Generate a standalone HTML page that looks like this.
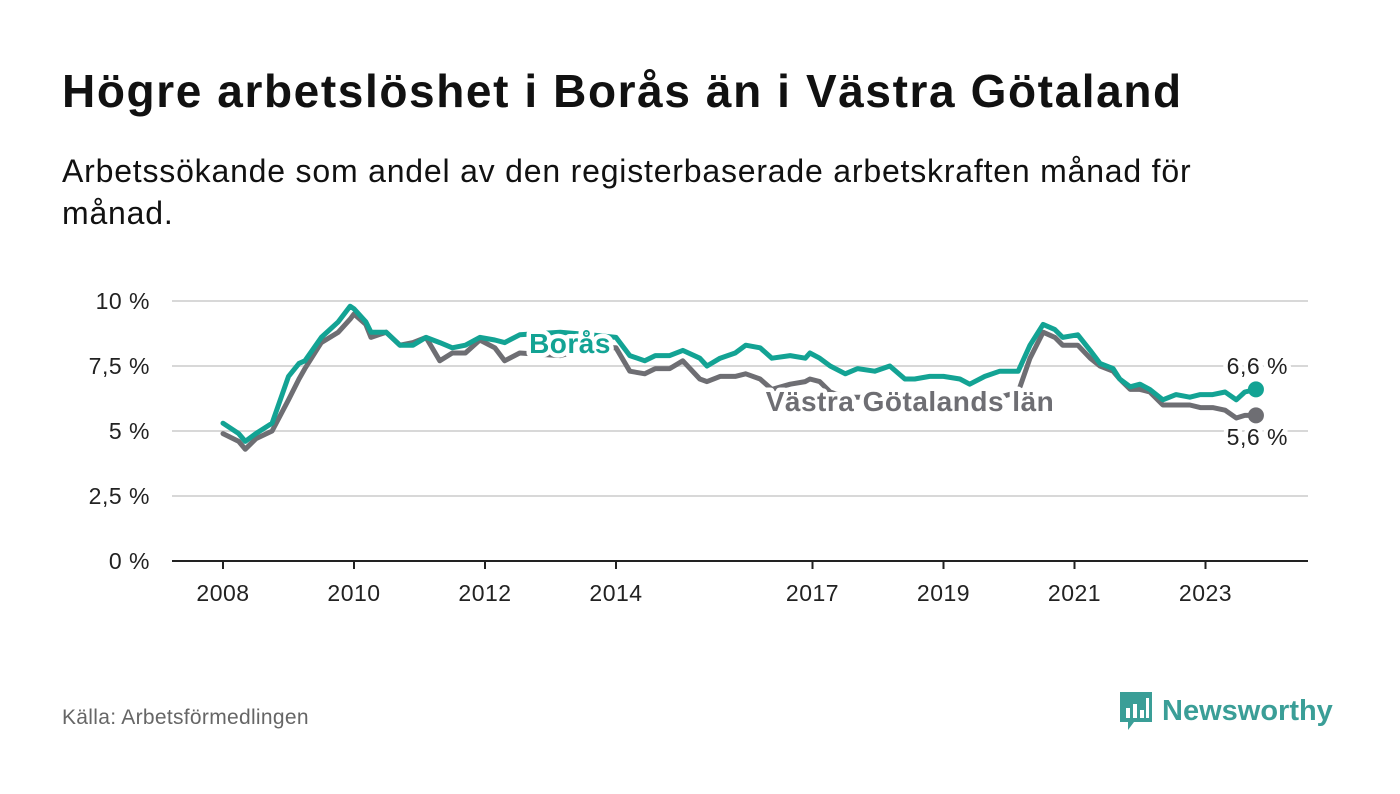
<!DOCTYPE html>
<html><head><meta charset="utf-8"><style>
body{margin:0;width:1400px;height:794px;background:#fff;font-family:"Liberation Sans","DejaVu Sans",sans-serif;color:#111;overflow:hidden;position:relative}
h1{position:absolute;left:62px;top:64px;margin:0;font-size:46px;font-weight:bold;letter-spacing:1.6px}
.sub{position:absolute;left:62px;top:150px;font-size:32px;line-height:42px;width:1190px;letter-spacing:0.8px}
.src{position:absolute;left:62px;top:706px;font-size:21px;color:#666;letter-spacing:0.3px}
.logo{position:absolute;left:1118px;top:690px;display:flex;align-items:center;gap:8px;font-size:29px;font-weight:bold;color:#3a9e97}
</style></head><body>
<h1>Högre arbetslöshet i Borås än i Västra Götaland</h1>
<div class="sub">Arbetssökande som andel av den registerbaserade arbetskraften månad för månad.</div>
<svg id="chart" width="1400" height="794" style="position:absolute;left:0;top:0"></svg>
<div class="src">Källa: Arbetsförmedlingen</div>
<div class="logo">
<svg width="36" height="42" viewBox="0 0 36 42"><path d="M2 2h32v30H16l-6 8v-8H2z" fill="#3a9e97"/><rect x="8" y="18" width="4" height="10" fill="#fff"/><rect x="15" y="14" width="4" height="14" fill="#fff"/><rect x="22" y="20" width="4" height="8" fill="#fff"/><rect x="28" y="8" width="3" height="20" fill="#fff"/></svg>
<span>Newsworthy</span></div>
<script>
const dates=[2008.0,2008.24,2008.34,2008.5,2008.75,2009.0,2009.16,2009.25,2009.5,2009.76,2009.94,2010.0,2010.18,2010.26,2010.49,2010.7,2010.9,2011.1,2011.31,2011.5,2011.7,2011.92,2012.15,2012.3,2012.53,2013.15,2013.6,2014.0,2014.21,2014.44,2014.6,2014.82,2015.02,2015.28,2015.39,2015.59,2015.82,2015.98,2016.2,2016.38,2016.66,2016.89,2016.96,2017.11,2017.27,2017.5,2017.69,2017.95,2018.18,2018.41,2018.56,2018.79,2019.0,2019.25,2019.4,2019.63,2019.86,2020.14,2020.32,2020.52,2020.7,2020.82,2021.05,2021.24,2021.39,2021.59,2021.69,2021.85,2022.0,2022.15,2022.35,2022.55,2022.76,2022.92,2023.11,2023.3,2023.47,2023.6,2023.77];
const boras=[5.3,4.9,4.6,4.9,5.3,7.1,7.6,7.7,8.6,9.2,9.8,9.7,9.2,8.8,8.8,8.3,8.3,8.6,8.4,8.2,8.3,8.6,8.5,8.4,8.7,8.8,8.7,8.6,7.9,7.7,7.9,7.9,8.1,7.8,7.5,7.8,8.0,8.3,8.2,7.8,7.9,7.8,8.0,7.8,7.5,7.2,7.4,7.3,7.5,7.0,7.0,7.1,7.1,7.0,6.8,7.1,7.3,7.3,8.3,9.1,8.9,8.6,8.7,8.1,7.6,7.4,7.0,6.7,6.8,6.6,6.2,6.4,6.3,6.4,6.4,6.5,6.2,6.5,6.6];
const vg=[4.9,4.6,4.3,4.7,5.0,6.2,7.0,7.4,8.4,8.8,9.3,9.5,9.1,8.6,8.8,8.3,8.4,8.6,7.7,8.0,8.0,8.5,8.2,7.7,8.0,7.9,8.2,8.2,7.3,7.2,7.4,7.4,7.7,7.0,6.9,7.1,7.1,7.2,7.0,6.6,6.8,6.9,7.0,6.9,6.5,6.3,6.3,6.3,6.3,6.3,6.3,6.3,6.3,6.3,6.3,6.3,6.3,6.5,7.8,8.8,8.6,8.3,8.3,7.8,7.5,7.3,7.0,6.6,6.6,6.5,6.0,6.0,6.0,5.9,5.9,5.8,5.5,5.6,5.6];
const yTicks=[0,2.5,5,7.5,10];
const yTickLabels=["0 %","2,5 %","5 %","7,5 %","10 %"];
const xTicks=[2008,2010,2012,2014,2017,2019,2021,2023];
const NS="http://www.w3.org/2000/svg";
const svg=document.getElementById('chart');
const X=t=>223+(t-2008)*65.5;
const Y=v=>561-v*26;
function mk(tag,attrs){const e=document.createElementNS(NS,tag);for(const k in attrs)e.setAttribute(k,attrs[k]);svg.appendChild(e);return e;}
yTicks.forEach((v,i)=>{
  const l=mk('line',{x1:172,x2:1308,y1:Y(v),y2:Y(v),stroke:v===0?'#222':'#d8d8d8','stroke-width':2});
  
  
  const t=mk('text',{x:150,y:Y(v)+8,'text-anchor':'end','font-size':23,fill:'#222','letter-spacing':0.5,'font-family':'Liberation Sans, DejaVu Sans, sans-serif'});
  t.textContent=yTickLabels[i];
  
  
});
xTicks.forEach(yr=>{
  const l=mk('line',{x1:X(yr),x2:X(yr),y1:561,y2:569,stroke:'#222','stroke-width':2});
  
  
  const t=mk('text',{x:X(yr),y:601,'text-anchor':'middle','font-size':23,fill:'#222','letter-spacing':0.5,'font-family':'Liberation Sans, DejaVu Sans, sans-serif'});
  t.textContent=yr;
  
  
});
function line(vals,color,name){
  const d=vals.map((v,i)=>(i?'L':'M')+X(dates[i]).toFixed(1)+' '+Y(v).toFixed(1)).join(' ');
  const p=mk('path',{d:d,fill:'none',stroke:color,'stroke-width':5,'stroke-linejoin':'round','stroke-linecap':'round'});
  
  
  const n=vals.length-1;
  const c=mk('circle',{cx:X(dates[n]),cy:Y(vals[n]),r:8,fill:color});
  
  
}
line(vg,'#6e6e73','vastra-gotaland-line');
line(boras,'#13a394','boras-line');
function lab(txt,x,y,color,size,anchor,bold,name){
  const t=mk('text',{x:x,y:y,'text-anchor':anchor,'font-size':size,fill:color,stroke:'#fff','stroke-width':9,'paint-order':'stroke','stroke-linejoin':'round','font-weight':bold?'bold':'normal','letter-spacing':0.5,'font-family':'Liberation Sans, DejaVu Sans, sans-serif'});
  t.textContent=txt;
  
  
}
lab('Borås',570,353,'#13a394',28,'middle',true,'boras-series-label');
lab('Västra Götalands län',910,411,'#6e6e73',28,'middle',true,'vg-series-label');
const nb=boras.length-1;
lab(boras[nb].toFixed(1).replace('.',',')+' %',1288,374,'#222',23,'end',false,'boras-end-value');
lab(vg[nb].toFixed(1).replace('.',',')+' %',1288,445,'#222',23,'end',false,'vg-end-value');
</script>
</body></html>
